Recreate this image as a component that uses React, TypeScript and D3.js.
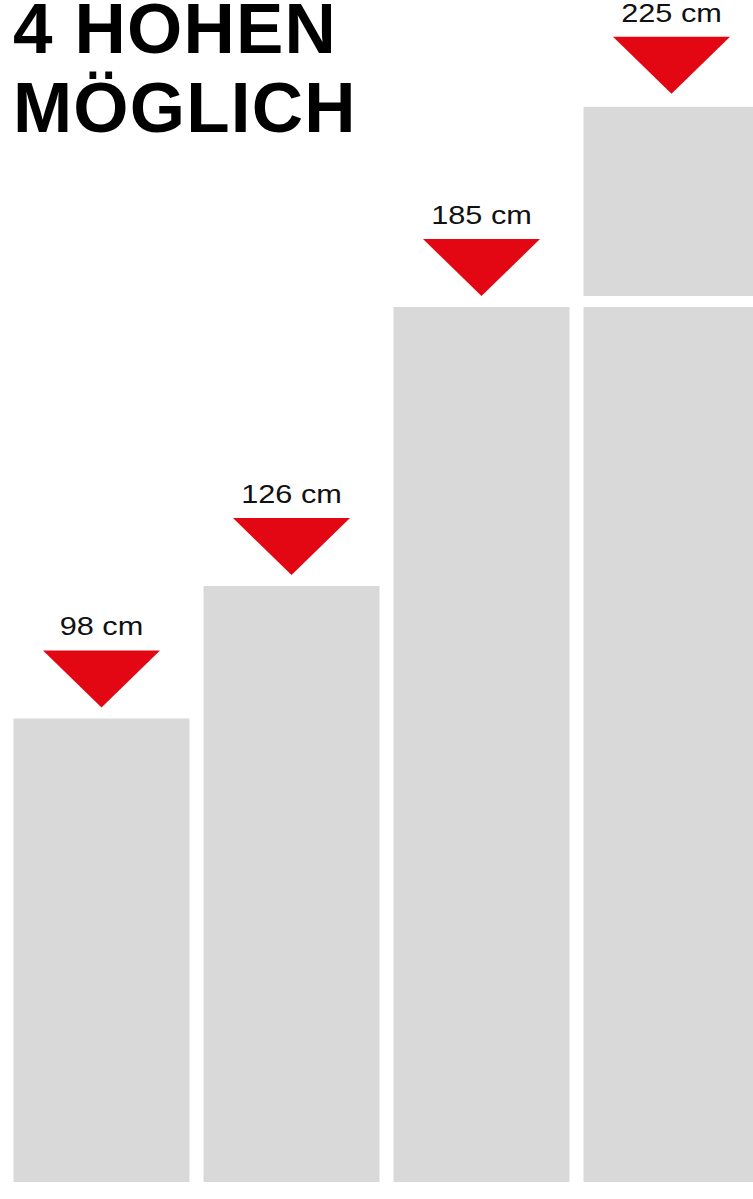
import React from "react";
import * as d3 from "d3";

const titleLines = ["4 HOHEN", "MÖGLICH"];
const categories = ["98 cm", "126 cm", "185 cm", "225 cm"];
const values = [98, 126, 185, 225];
// bar 4 is drawn as two stacked segments with a small break between them
const lowerSegment = [98, 126, 185, 185];

const W = 753;
const H = 1199;
const GRAY = "#d9d9d9";
const RED = "#e30613";

export default function App() {
  const x = d3
    .scaleBand<string>()
    .domain(categories)
    .range([13.5, 759.5])
    .paddingInner(14 / 190)
    .paddingOuter(0);
  const y = d3.scaleLinear().domain([0, 185]).range([1182, 307]);
  const breakGap = 11;
  const bw = x.bandwidth();

  return (
    <svg
      width={W}
      height={H}
      style={{ position: "absolute", left: 0, top: 0, display: "block" }}
    >
      <rect x={0} y={0} width={W} height={H} fill="#ffffff" />
      <g fontFamily="'Liberation Sans', Arial, Helvetica, sans-serif" fill="#000">
        {titleLines.map((t, i) => (
          <text
            key={t}
            x={13}
            y={53 + i * 79}
            fontSize={71}
            fontWeight="bold"
            letterSpacing={1.2}
          >
            {t}
          </text>
        ))}
      </g>
      {categories.map((c, i) => {
        const x0 = x(c) as number;
        const cx = x0 + bw / 2;
        const lower = lowerSegment[i];
        const upper = values[i] - lower;
        const yLowerTop = y(lower);
        const yUpperTop = upper > 0 ? y(lower + upper) - breakGap : yLowerTop;
        const upperBottom = y(lower) - breakGap;
        const off = upper > 0 ? 2 : 0;
        const triTop = yUpperTop - 68 - off;
        const triApex = yUpperTop - 11 - off;
        const tri = d3.line()([
          [cx - 58.5, triTop],
          [cx + 58.5, triTop],
          [cx, triApex],
        ]) + "Z";
        return (
          <g key={c}>
            <rect x={x0} y={yLowerTop} width={bw} height={y(0) - yLowerTop} fill={GRAY} />
            {upper > 0 && (
              <rect
                x={x0}
                y={yUpperTop}
                width={bw}
                height={upperBottom - yUpperTop}
                fill={GRAY}
              />
            )}
            <path d={tri} fill={RED} />
            <g transform={`translate(${cx},${triTop - 15}) scale(1.18,1)`}>
              <text
                x={0}
                y={0}
                textAnchor="middle"
                fontSize={26}
                fontFamily="'Liberation Sans', Arial, Helvetica, sans-serif"
                fill="#111"
              >
                {c}
              </text>
            </g>
          </g>
        );
      })}
    </svg>
  );
}
